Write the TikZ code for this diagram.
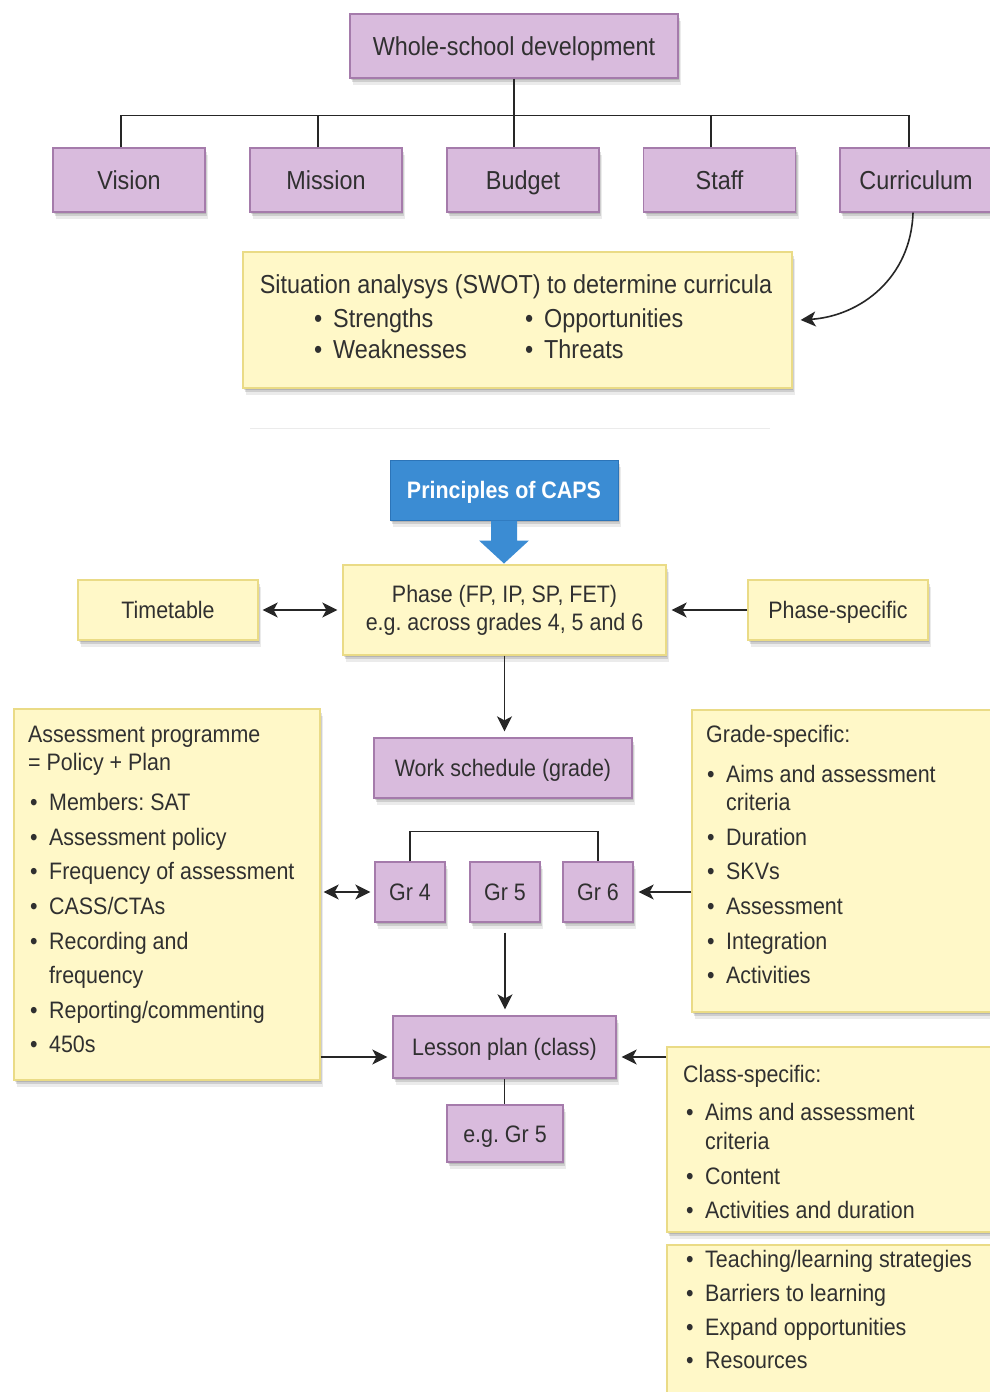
\documentclass[tikz,border=0pt]{standalone}
\usepackage{fontspec}
\setmainfont{Liberation Sans}[FakeStretch=0.9]
\usetikzlibrary{shadows,arrows.meta}
\definecolor{lav}{HTML}{D9BBDD}
\definecolor{lavd}{HTML}{A57BAB}
\definecolor{yel}{HTML}{FFF8C8}
\definecolor{yeld}{HTML}{EADB86}
\definecolor{capsblue}{HTML}{3B8CD3}
\definecolor{capsd}{HTML}{2C74B8}
\definecolor{txt}{HTML}{303030}
\newcommand\bul{\makebox[19pt][l]{\textbullet}}
\frenchspacing
\begin{document}
\begin{tikzpicture}[x=1pt,y=-1pt,
 shad/.style={drop shadow={shadow xshift=1pt,shadow yshift=-2pt,opacity=0.12,fill=black},
              drop shadow={shadow xshift=2pt,shadow yshift=-4pt,opacity=0.12,fill=black},
              drop shadow={shadow xshift=3pt,shadow yshift=-7pt,opacity=0.08,fill=black}},
 pbox/.style={shad, draw=lavd, fill=lav, line width=1.3pt, inner sep=0pt, text=txt},
 ybox/.style={shad, draw=yeld, fill=yel, line width=1.3pt, inner sep=0pt, text=txt},
 big/.style={font=\fontsize{26}{30}\selectfont, text height=21.5pt, text depth=3pt},
 med/.style={font=\fontsize{23.8}{28}\selectfont, text height=19.8pt, text depth=2.8pt},
 lst/.style={anchor=mid west, inner sep=0pt, text=txt, font=\fontsize{23.8}{28}\selectfont},
 lstb/.style={anchor=mid west, inner sep=0pt, text=txt, font=\fontsize{26}{30}\selectfont},
 conn/.style={draw=black!85, line width=1.6pt},
 arr/.style={conn, -{Stealth[length=15pt,width=15pt,inset=4pt]}},
 darr/.style={conn, {Stealth[length=15pt,width=15pt,inset=4pt]}-{Stealth[length=15pt,width=15pt,inset=4pt]}}]
\useasboundingbox (0,0) rectangle (990,1392);
\fill[white] (0,0) rectangle (990,1392);

% ---------- top part ----------
\node[pbox,big,minimum width=328pt,minimum height=64pt] (wsd) at (514,46) {Whole-school development};
\node[pbox,big,minimum width=152pt,minimum height=64pt] (vision) at (129,180) {Vision};
\node[pbox,big,minimum width=152pt,minimum height=64pt] (mission) at (326,180) {Mission};
\node[pbox,big,minimum width=152pt,minimum height=64pt] (budget) at (523,180) {Budget};
\node[pbox,big,minimum width=152pt,minimum height=64pt] (staff) at (719.5,180) {Staff};
\node[pbox,big,minimum width=152pt,minimum height=64pt] (curr) at (916,180) {Curriculum};

\draw[conn,line width=1.3pt] (wsd.south) -- (wsd.south |- budget.north);
\draw[conn,line width=1.3pt] ([xshift=-8pt,yshift=32pt]vision.north) -- ([xshift=-7pt,yshift=32pt]curr.north);
\draw[conn,line width=1.3pt] ([xshift=-8pt]vision.north) -- ++(0,-32);
\draw[conn,line width=1.3pt] ([xshift=-8pt]mission.north) -- ++(0,-32);
\draw[conn,line width=1.3pt] ([xshift=-8.5pt]staff.north) -- ++(0,-32);
\draw[conn,line width=1.3pt] ([xshift=-7pt]curr.north) -- ++(0,-32);

\node[ybox,minimum width=549pt,minimum height=136pt] (swot) at (517.5,320) {};
\node[inner sep=0pt,text=txt,font=\fontsize{26}{30}\selectfont] (swoth) at (516,287) {Situation analysys (SWOT) to determine curricula};
\node[lstb] (sw1) at (314,325) {\bul Strengths};
\node[lstb] (sw2) at (314,356) {\bul Weaknesses};
\node[lstb] (sw3) at (525,325) {\bul Opportunities};
\node[lstb] (sw4) at (525,356) {\bul Threats};

\draw[arr] ([xshift=-3pt]curr.south) .. controls +(-2,65) and +(60,-4) .. ([xshift=8pt]swot.east);

\draw[black!8,line width=1pt] (250,428) -- (770,428);

% ---------- CAPS part ----------
\node[shad,draw=capsd,fill=capsblue,line width=1pt,text=white,minimum width=228pt,minimum height=60pt,
  font=\fontsize{23.8}{28}\selectfont\bfseries, text height=19.8pt, text depth=2.8pt] (caps) at (504,490) {Principles of CAPS};
\node[ybox,align=center,font=\fontsize{23.8}{28}\selectfont,minimum width=323pt,minimum height=90pt] (phase) at (504.5,610) {Phase (FP, IP, SP, FET)\\e.g. across grades 4, 5 and 6};
\fill[capsblue] ([xshift=-13pt]caps.south) -- ++(26,0) -- ++(0,20) -- ++(12,0) -- ++(-25,23) -- ++(-25,-23) -- ++(12,0) -- cycle;

\node[ybox,med,minimum width=180pt,minimum height=60pt] (tt) at (168,610) {Timetable};
\node[ybox,med,minimum width=180pt,minimum height=60pt] (ps) at (838,610) {Phase-specific};
\draw[darr,shorten <=4pt,shorten >=5pt] (tt.east) -- (phase.west);
\draw[arr,shorten >=5pt] (ps.west) -- (phase.east);

\node[pbox,med,minimum width=258pt,minimum height=60pt] (ws) at (503,768) {Work schedule (grade)};
\draw[arr,shorten >=6pt] (phase.south) -- (phase.south |- ws.north);

\node[pbox,med,minimum width=70pt,minimum height=60pt] (gr4) at (410,892) {Gr 4};
\node[pbox,med,minimum width=70pt,minimum height=60pt] (gr5) at (505,892) {Gr 5};
\node[pbox,med,minimum width=70pt,minimum height=60pt] (gr6) at (598,892) {Gr 6};
\draw[conn,line width=1.3pt] (gr4.north) -- ++(0,-30) -| (gr6.north);

% assessment box
\node[ybox,minimum width=306pt,minimum height=371pt] (assess) at (167,894.5) {};
\node[lst] (a1) at (28,740) {Assessment programme};
\node[lst] (a2) at (28,768) {= Policy + Plan};
\node[lst] (a3) at (30,808) {\bul Members: SAT};
\node[lst] (a4) at (30,843) {\bul Assessment policy};
\node[lst] (a5) at (30,877) {\bul Frequency of assessment};
\node[lst] (a6) at (30,912) {\bul CASS/CTAs};
\node[lst] (a7) at (30,947) {\bul Recording and};
\node[lst] (a8) at (49,981) {frequency};
\node[lst] (a9) at (30,1016) {\bul Reporting/commenting};
\node[lst] (a10) at (30,1050) {\bul 450s};

% grade-specific box
\node[ybox,minimum width=310pt,minimum height=302pt] (grade) at (847,861) {};
\node[lst] (g0) at (706,740) {Grade-specific:};
\node[lst] (g1) at (707,780) {\bul Aims and assessment};
\node[lst] (g2) at (726,808) {criteria};
\node[lst] (g3) at (707,843) {\bul Duration};
\node[lst] (g4) at (707,877) {\bul SKVs};
\node[lst] (g5) at (707,912) {\bul Assessment};
\node[lst] (g6) at (707,947) {\bul Integration};
\node[lst] (g7) at (707,981) {\bul Activities};

\draw[darr,shorten <=3pt,shorten >=4pt] (gr4.west -| assess.east) -- (gr4.west);
\draw[arr,shorten >=5pt] (gr6.east -| grade.west) -- (gr6.east);

\node[pbox,med,minimum width=223pt,minimum height=62pt] (lesson) at (504.5,1047) {Lesson plan (class)};
\draw[arr,shorten <=10pt,shorten >=6pt] (gr5.south) -- (gr5.south |- lesson.north);
\node[pbox,med,minimum width=116pt,minimum height=57pt] (eg) at (505,1133.5) {e.g. Gr 5};
\draw[conn] (lesson.south) -- (lesson.south |- eg.north);

% class-specific boxes
\node[ybox,minimum width=335pt,minimum height=185pt] (class1) at (834.5,1139.5) {};
\node[ybox,minimum width=335pt,minimum height=160pt] (class2) at (834.5,1325) {};
\node[lst] (c0) at (683,1080) {Class-specific:};
\node[lst] (c1) at (686,1118) {\bul Aims and assessment};
\node[lst] (c2) at (705,1147) {criteria};
\node[lst] (c3) at (686,1182) {\bul Content};
\node[lst] (c4) at (686,1216) {\bul Activities and duration};
\node[lst] (c5) at (686,1265) {\bul Teaching/learning strategies};
\node[lst] (c6) at (686,1299) {\bul Barriers to learning};
\node[lst] (c7) at (686,1333) {\bul Expand opportunities};
\node[lst] (c8) at (686,1366) {\bul Resources};

\coordinate (lpL) at ([yshift=-10pt]lesson.west);
\coordinate (lpR) at ([yshift=-10pt]lesson.east);
\draw[arr,shorten >=5pt] (lpL -| assess.east) -- (lpL);
\draw[arr,shorten >=5pt] (lpR -| class1.west) -- (lpR);
\end{tikzpicture}
\end{document}
